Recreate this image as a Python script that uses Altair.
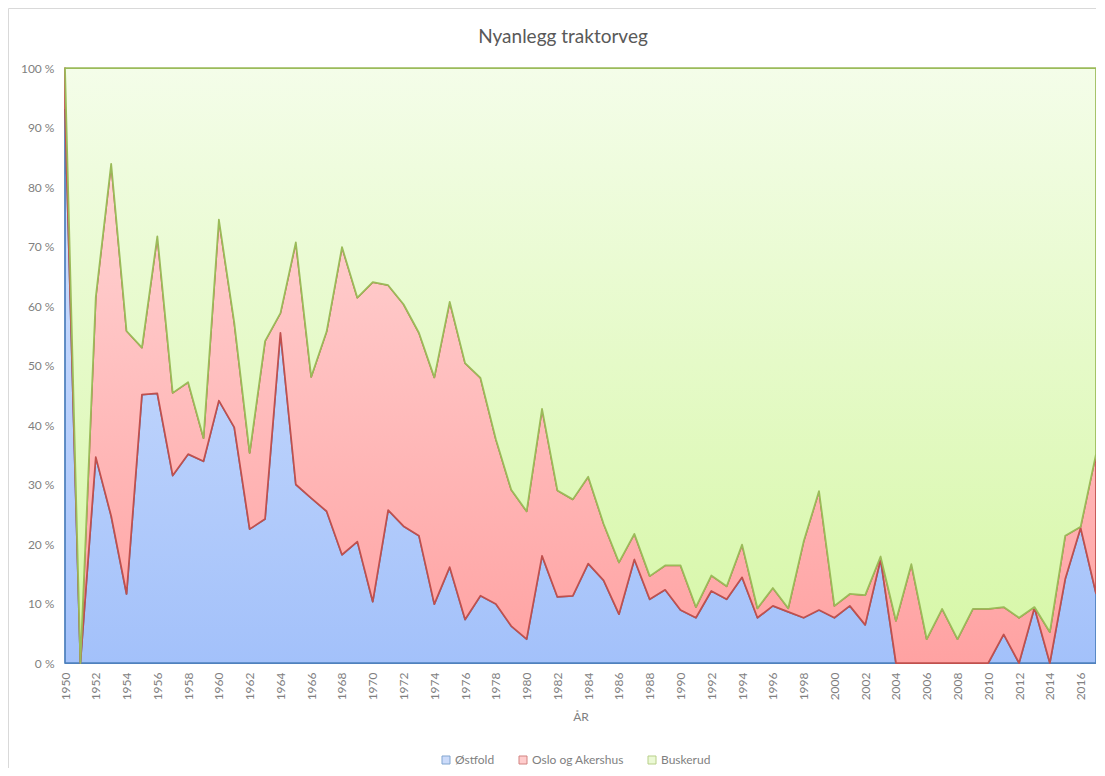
import altair as alt
import pandas as pd

years = list(range(1950, 2018))
regions = ["Østfold", "Oslo og Akershus", "Buskerud"]

ostfold = [93.0, 0.0, 34.6, 24.7, 11.6, 45.1, 45.3, 31.5, 35.1, 33.9,
           44.1, 39.6, 22.5, 24.2, 55.5, 30.0, 27.7, 25.5, 18.2, 20.4,
           10.3, 25.7, 23.0, 21.4, 9.9, 16.1, 7.3, 11.3, 9.9, 6.2,
           4.0, 18.0, 11.1, 11.3, 16.7, 13.9, 8.2, 17.4, 10.7, 12.3,
           8.9, 7.6, 12.1, 10.7, 14.4, 7.6, 9.6, 8.6, 7.6, 8.9,
           7.6, 9.6, 6.4, 17.4, 0.0, 0.0, 0.0, 0.0, 0.0, 0.0,
           0.0, 4.8, 0.0, 9.3, 0.0, 14.1, 22.7, 11.7]

oslo = [7.0, 0.0, 26.9, 59.2, 44.2, 7.9, 26.4, 13.9, 12.1, 3.9,
        30.4, 17.6, 12.8, 29.9, 3.3, 40.7, 20.4, 30.2, 51.7, 41.0,
        53.7, 37.8, 37.3, 34.1, 38.1, 44.6, 43.1, 36.6, 27.7, 22.9,
        21.5, 24.7, 17.9, 16.2, 14.6, 9.5, 8.7, 4.3, 3.9, 4.1,
        7.5, 1.8, 2.6, 2.2, 5.5, 1.6, 3.0, 0.6, 12.8, 20.0,
        2.0, 2.0, 5.0, 0.5, 7.1, 16.6, 4.0, 9.1, 4.0, 9.1,
        9.1, 4.6, 7.6, 0.1, 5.2, 7.3, 0.2, 23.4]

buskerud = [0.0, 100.0, 38.5, 16.1, 44.2, 47.0, 28.3, 54.6, 52.8, 62.2,
            25.5, 42.8, 64.7, 45.9, 41.2, 29.3, 51.9, 44.3, 30.1, 38.6,
            36.0, 36.5, 39.7, 44.5, 52.0, 39.3, 49.6, 52.1, 62.4, 70.9,
            74.5, 57.3, 71.0, 72.5, 68.7, 76.6, 83.1, 78.3, 85.4, 83.6,
            83.6, 90.6, 85.3, 87.1, 80.1, 90.8, 87.4, 90.8, 79.6, 71.1,
            90.4, 88.4, 88.6, 82.1, 92.9, 83.4, 96.0, 90.9, 96.0, 90.9,
            90.9, 90.6, 92.4, 90.6, 94.8, 78.6, 77.1, 64.9]

title_text = "Nyanlegg traktorveg"
x_ticks = list(range(1950, 2017, 2))
y_ticks = list(range(0, 101, 10))

grad_top = ["#d6e4fe", "#ffdede", "#f4fde9"]
grad_bottom = ["#a3c1fa", "#ffa2a2", "#d6f7a6"]
strokes = ["#4f81bd", "#c0504d", "#9bbb59"]
legend_fill = ["#b7cdf8", "#ffb8b8", "#e3f7c4"]

rows = []
for i, yr in enumerate(years):
    for k, (r, vals) in enumerate(zip(regions, [ostfold, oslo, buskerud])):
        rows.append({"year": yr, "region": r, "order": k, "value": vals[i]})
df = pd.DataFrame(rows)

x_enc = alt.X(
    "year:Q",
    scale=alt.Scale(domain=[1950, 2017], nice=False, zero=False),
    axis=alt.Axis(values=x_ticks, format="d", labelAngle=270, title="ÅR",
                  ticks=False, grid=False, domainColor="#d9d9d9",
                  labelPadding=9, titlePadding=12),
)
y_enc = alt.Y(
    "y1:Q",
    scale=alt.Scale(domain=[0, 100], nice=False),
    axis=alt.Axis(values=y_ticks, labelExpr="datum.value + ' %'", title=None,
                  ticks=False, grid=False, domain=False, labelPadding=11),
)

base = alt.Chart(df).transform_stack(
    stack="value", groupby=["year"],
    sort=[alt.SortField("order", order="ascending")],
    as_=["y0", "y1"],
)

one_row = alt.Data(values=[{"t": title_text}])

frame = alt.Chart(one_row).mark_rect(
    fillOpacity=0, stroke="#d9d9d9", strokeWidth=1
).encode(
    x=alt.value(-56.5), x2=alt.value(1100),
    y=alt.value(-59.5), y2=alt.value(800),
)

title_layer = alt.Chart(one_row).mark_text(
    font="Lato", fontSize=19, color="#595959", align="center", baseline="middle"
).encode(
    text="t:N", x=alt.value(498), y=alt.value(-31),
)

layers = [frame]
for k, r in enumerate(regions):
    grad = alt.Gradient(
        gradient="linear",
        stops=[alt.GradientStop(color=grad_top[k], offset=0),
               alt.GradientStop(color=grad_bottom[k], offset=1)],
        x1=0, x2=0, y1=0, y2=1,
    )
    layers.append(
        base.transform_filter(alt.datum.region == r)
        .mark_area(fill=grad, stroke=strokes[k], strokeWidth=1.75,
                   strokeJoin="round")
        .encode(x=x_enc, y=y_enc, y2="y0:Q")
    )

leg = alt.Legend(title=None, orient="none", direction="horizontal",
                 legendX=375, legendY=686)
legend_layer = alt.Chart(df).transform_filter("datum.year < 0").mark_square(
    size=60
).encode(
    fill=alt.Fill("region:N", scale=alt.Scale(domain=regions, range=legend_fill), legend=leg),
    stroke=alt.Stroke("region:N", scale=alt.Scale(domain=regions, range=strokes), legend=leg),
)
layers.append(legend_layer)
layers.append(title_layer)

chart = alt.layer(*layers).properties(
    width=1031,
    height=595,
    autosize=alt.AutoSizeParams(type="none"),
    padding={"left": 57, "top": 60, "right": 0, "bottom": 105},
).configure_axis(
    labelFont="Lato", titleFont="Lato", labelColor="#7f7f7f", titleColor="#7f7f7f",
    labelFontSize=12, titleFontSize=12, titleFontWeight="normal",
).configure_legend(
    labelFont="Lato", labelFontSize=12, labelColor="#7f7f7f",
    symbolType="square", symbolSize=64, symbolStrokeWidth=1,
    columnPadding=22, labelOffset=3, padding=0,
).configure_view(strokeWidth=0)

chart.save("out.html", embed_options={"renderer": "svg", "actions": False})
